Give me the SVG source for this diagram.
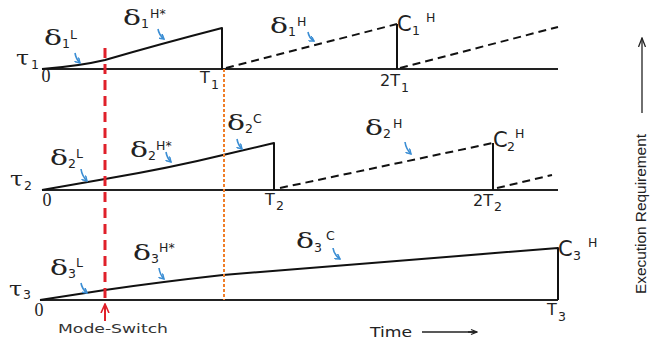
<svg xmlns="http://www.w3.org/2000/svg" width="662" height="343" viewBox="0 0 662 343">
<defs>
<marker id="blueHead" markerWidth="6" markerHeight="6" refX="5" refY="3" orient="auto" markerUnits="userSpaceOnUse">
<path d="M0,0 L5,3 L0,6" fill="none" stroke="#3b8ed4" stroke-width="1.5"/>
</marker>
<marker id="openHead" markerWidth="10" markerHeight="8" refX="9" refY="4" orient="auto" markerUnits="userSpaceOnUse">
<path d="M0,0.5 L9,4 L0,7.5" fill="none" stroke="#222" stroke-width="1.3"/>
</marker>
<marker id="redHead" markerWidth="10" markerHeight="10" refX="9" refY="5" orient="auto" markerUnits="userSpaceOnUse">
<path d="M0,1 L9,5 L0,9" fill="none" stroke="#e0202a" stroke-width="1.6"/>
</marker>
<marker id="timeHead" markerWidth="10" markerHeight="8" refX="9" refY="4" orient="auto" markerUnits="userSpaceOnUse">
<path d="M0,4 L9,4 M3,1.5 L9,4 L3,6.5" fill="none" stroke="#222" stroke-width="1.3"/>
</marker>
</defs>
<style>
.axis{stroke:#222;stroke-width:2;fill:none}
.solid{stroke:#111;stroke-width:2;fill:none;stroke-linejoin:round}
.dash{stroke:#111;stroke-width:2;fill:none;stroke-dasharray:8,5}
.blue{stroke:#3b8ed4;stroke-width:1.6;fill:none;marker-end:url(#blueHead)}
.g{font-family:"DejaVu Serif","Liberation Serif",serif;font-size:20px;fill:#222}
.s{font-family:"DejaVu Sans","Liberation Sans",sans-serif;font-size:12.5px;fill:#222}
.l{font-family:"DejaVu Sans","Liberation Sans",sans-serif;font-size:21px;fill:#222}
.t{font-family:"DejaVu Sans","Liberation Sans",sans-serif;font-size:16px;fill:#222}
.z{font-family:"Liberation Serif",serif;font-size:18px;fill:#222;text-anchor:middle}
</style>
<rect width="662" height="343" fill="#ffffff"/>

<g id="axes">
<line class="axis" x1="42" y1="69" x2="558" y2="69"/>
<line class="axis" x1="42" y1="190" x2="558" y2="190"/>
<line class="axis" x1="40" y1="300" x2="558" y2="300"/>
</g>

<g id="connectors">
<path class="solid" d="M42,69 Q80,66 105,60 Q160,44 222,28 L222,69"/>
<path class="dash" d="M226,68 L397,24"/>
<line class="solid" x1="397" y1="24" x2="397" y2="69"/>
<path class="dash" d="M400,68 L558,27"/>

<path class="solid" d="M42,190 L105,179 Q170,168 223,155 L274,143 L274,190"/>
<path class="dash" d="M280,188 L493,143"/>
<line class="solid" x1="493" y1="143" x2="493" y2="190"/>
<path class="dash" d="M497,188 L552,175"/>

<path class="solid" d="M40,300 L105,290 Q160,282 223,275 L558,248 L558,300"/>

<line x1="105" y1="48" x2="105" y2="298" stroke="#e0202a" stroke-width="3" stroke-dasharray="10,6"/>
<line x1="224" y1="69" x2="224" y2="300" stroke="#ef7f2a" stroke-width="2" stroke-dasharray="3,2"/>
<line x1="105" y1="321" x2="105" y2="304" stroke="#e0202a" stroke-width="2" marker-end="url(#redHead)"/>

<path class="blue" d="M75,53 Q76,59 80,63"/>
<path class="blue" d="M158,29 Q159,35 164,39"/>
<path class="blue" d="M308,32 Q309,38 314,41"/>
<path class="blue" d="M81,169 Q82,176 87,181"/>
<path class="blue" d="M166,152 Q167,158 171,162"/>
<path class="blue" d="M237,139 Q238,145 242,149"/>
<path class="blue" d="M405,142 Q406,149 411,154"/>
<path class="blue" d="M81,283 Q82,289 87,293"/>
<path class="blue" d="M159,268 Q160,275 164,279"/>
<path class="blue" d="M333,248 Q334,255 340,259"/>

<line x1="422" y1="332" x2="477" y2="332" stroke="#222" stroke-width="1.3" marker-end="url(#timeHead)"/>
<line x1="642" y1="113" x2="642" y2="38" stroke="#222" stroke-width="1.3" marker-end="url(#openHead)"/>
</g>

<g id="task1">
<text class="g" x="16" y="65" textLength="13" lengthAdjust="spacingAndGlyphs">τ</text><text class="s" x="31" y="69">1</text>
<text class="z" x="46" y="82">0</text>
<text class="g" x="44" y="45" textLength="18" lengthAdjust="spacingAndGlyphs">δ</text><text class="s" x="62" y="48">1</text><text class="s" x="70" y="39">L</text>
<text class="g" x="123" y="25" textLength="18" lengthAdjust="spacingAndGlyphs">δ</text><text class="s" x="141" y="28">1</text><text class="s" x="150" y="18">H*</text>
<text class="g" x="270" y="33" textLength="18" lengthAdjust="spacingAndGlyphs">δ</text><text class="s" x="288" y="36">1</text><text class="s" x="297" y="26">H</text>
<text class="t" x="200" y="83">T</text><text class="s" x="211" y="89">1</text>
<text class="t" x="380" y="86">2T</text><text class="s" x="401" y="92">1</text>
<text class="l" x="397" y="31">C</text><text class="s" x="412" y="35">1</text><text class="s" x="426" y="22">H</text>
</g>

<g id="task2">
<text class="g" x="10" y="186" textLength="13" lengthAdjust="spacingAndGlyphs">τ</text><text class="s" x="24" y="190">2</text>
<text class="z" x="47" y="206">0</text>
<text class="g" x="50" y="165" textLength="18" lengthAdjust="spacingAndGlyphs">δ</text><text class="s" x="68" y="168">2</text><text class="s" x="76" y="158">L</text>
<text class="g" x="130" y="157" textLength="18" lengthAdjust="spacingAndGlyphs">δ</text><text class="s" x="148" y="160">2</text><text class="s" x="156" y="150">H*</text>
<text class="g" x="227" y="130" textLength="18" lengthAdjust="spacingAndGlyphs">δ</text><text class="s" x="245" y="133">2</text><text class="s" x="253" y="123">C</text>
<text class="g" x="365" y="135" textLength="18" lengthAdjust="spacingAndGlyphs">δ</text><text class="s" x="383" y="138">2</text><text class="s" x="393" y="128">H</text>
<text class="t" x="265" y="205">T</text><text class="s" x="276" y="210">2</text>
<text class="t" x="473" y="206">2T</text><text class="s" x="494" y="211">2</text>
<text class="l" x="493" y="147">C</text><text class="s" x="507" y="151">2</text><text class="s" x="515" y="138">H</text>
</g>

<g id="task3">
<text class="g" x="9" y="296" textLength="13" lengthAdjust="spacingAndGlyphs">τ</text><text class="s" x="23" y="299">3</text>
<text class="z" x="39" y="316">0</text>
<text class="g" x="50" y="275" textLength="18" lengthAdjust="spacingAndGlyphs">δ</text><text class="s" x="68" y="278">3</text><text class="s" x="76" y="267">L</text>
<text class="g" x="133" y="260" textLength="18" lengthAdjust="spacingAndGlyphs">δ</text><text class="s" x="151" y="263">3</text><text class="s" x="159" y="252">H*</text>
<text class="g" x="296" y="248" textLength="18" lengthAdjust="spacingAndGlyphs">δ</text><text class="s" x="314" y="252">3</text><text class="s" x="326" y="240">C</text>
<text class="t" x="547" y="315">T</text><text class="s" x="558" y="321">3</text>
<text class="l" x="558" y="256">C</text><text class="s" x="573" y="260">3</text><text class="s" x="588" y="247">H</text>
</g>

<g id="labels">
<text x="58" y="333" font-family="DejaVu Sans, Liberation Sans, sans-serif" font-size="13" fill="#333" textLength="110" lengthAdjust="spacingAndGlyphs">Mode-Switch</text>
<text x="370" y="337" font-family="DejaVu Sans, Liberation Sans, sans-serif" font-size="14" fill="#222" textLength="42" lengthAdjust="spacingAndGlyphs">Time</text>
<text transform="translate(646,214) rotate(-90)" text-anchor="middle" font-family="Liberation Sans, Arial, sans-serif" font-size="14" fill="#222" textLength="160" lengthAdjust="spacingAndGlyphs">Execution Requirement</text>
</g>
</svg>
